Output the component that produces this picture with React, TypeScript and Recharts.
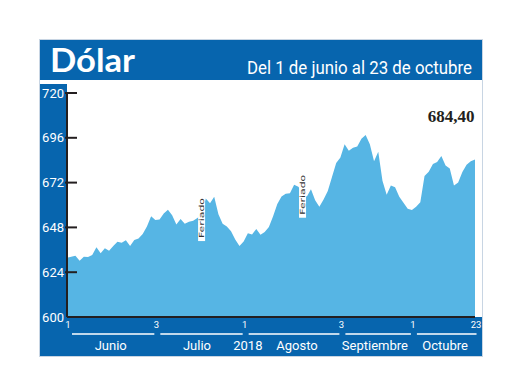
import React from 'react';
import { AreaChart, Area, XAxis, YAxis, ReferenceDot } from 'recharts';

const dolarValues = [
  631.8, 632.3, 632.8, 630.2, 632.3, 632.1, 633.2, 637.3, 634.1, 636.8,
  635.5, 638, 640.3, 639.8, 641.1, 638, 641.2, 642.1, 644.5, 648.5,
  654, 652, 652.2, 655.5, 657.5, 654.5, 649.5, 652.5, 650, 651,
  651.6, 653, 655, 663.5, 660.9, 664.4, 655, 650, 648.5, 646,
  641.5, 638, 640.5, 644.8, 644.2, 647.2, 644, 645.5, 648.2, 654,
  660.5, 664.5, 666, 666.3, 670.8, 669.8, 667, 664.4, 668.4, 662.5,
  659.1, 663, 667.5, 675, 682.5, 685.5, 692.5, 689, 690.7, 691.3,
  695.5, 697.5, 692.5, 683.5, 688.5, 673, 665.5, 670.5, 669.5, 664.4,
  661.2, 658, 657.3, 659, 661.5, 675.5, 677.8, 682, 683, 686.2,
  681.2, 679.5, 670.5, 672, 677.7, 681.5, 683.5, 684.4,
];

const dayTicks = [0, 21, 42, 65, 82, 97];
const dayTickLabels = ['1', '3', '1', '3', '1', '23'];
const yTicks = [600, 624, 648, 672, 696, 720];
const monthNames = ['Junio', 'Julio', 'Agosto', 'Septiembre', 'Octubre'];
const monthStart = [0, 21, 42, 65, 82];
const monthEnd = [21, 42, 65, 82, 97.6];
const monthLabelAt = [10.4, 30.9, 54.7, 73.2, 89.9];
const yearLabel = '2018';
const yearIndex = 43;
const feriadoIndex = [32, 56];
const feriadoLevel = [653, 665.5];
const feriadoText = 'Feriado';
const titleText = 'Dólar';
const subtitleText = 'Del 1 de junio al 23 de octubre';

const BLUE = '#0765AE';
const AREA = '#56B5E4';
const DARK = '#231F20';

const W = 520;
const H = 390;
const margin = { top: 93, right: 45, bottom: 19, left: 40 };
const yAxisWidth = 27;
const plotWidth = W - margin.left - margin.right - yAxisWidth;
const lastIndex = dolarValues.length - 1;
const pxPerDay = plotWidth / lastIndex;

const data = dolarValues.map((v, i) => ({ i, v }));
const monthAxisTicks = [...monthLabelAt, yearIndex];
const lastLabel = dolarValues[lastIndex].toFixed(2).replace('.', ',');

const YTick = (props: any) => {
  const { x, y, payload } = props;
  return (
    <g>
      <text x={x - 3} y={y + 4.5} textAnchor="end" fill="#fff" fontSize={13} fontFamily="Roboto, sans-serif">
        {payload.value}
      </text>
      {payload.value !== 600 && (
        <line x1={x - 2} x2={x + 10} y1={y} y2={y} stroke={DARK} strokeWidth={2} />
      )}
    </g>
  );
};

const DayTick = (props: any) => {
  const { x, y, payload } = props;
  const k = dayTicks.indexOf(payload.value);
  return (
    <text x={x + 1} y={y + 11} textAnchor="middle" fill="#fff" fontSize={9.5} fontFamily="Roboto, sans-serif">
      {k >= 0 ? dayTickLabels[k] : ''}
    </text>
  );
};

const MonthTick = (props: any) => {
  const { x, y, payload } = props;
  if (payload.value === yearIndex) {
    return (
      <text x={x} y={y + 19} textAnchor="middle" fill="#fff" fontSize={13} fontFamily="Roboto, sans-serif">
        {yearLabel}
      </text>
    );
  }
  const k = monthLabelAt.indexOf(payload.value);
  if (k < 0) return null;
  const x1 = x + (monthStart[k] - monthLabelAt[k]) * pxPerDay + 5;
  const x2 = x + (monthEnd[k] - monthLabelAt[k]) * pxPerDay - 1;
  return (
    <g>
      <line x1={x1} x2={x2} y1={y + 3} y2={y + 3} stroke="#fff" strokeWidth={1.3} />
      <text x={x} y={y + 19} textAnchor="middle" fill="#fff" fontSize={13} fontFamily="Roboto, sans-serif">
        {monthNames[k]}
      </text>
    </g>
  );
};

const FeriadoShape = (props: any) => {
  const { cx, cy } = props;
  if (cx == null || cy == null) return null;
  return (
    <g>
      <rect x={cx - 3.5} y={cy - 23} width={7} height={46} fill="#fff" />
      <text
        x={cx}
        y={cy}
        transform={`rotate(-90 ${cx} ${cy})`}
        textAnchor="middle"
        dy={2.5}
        fontSize={7}
        fill="#333"
        fontFamily="DejaVu Sans, sans-serif"
        textLength={40}
        lengthAdjust="spacingAndGlyphs"
      >
        {feriadoText}
      </text>
    </g>
  );
};

const LastValueShape = (props: any) => {
  const { cx, cy } = props;
  if (cx == null || cy == null) return null;
  return (
    <text
      x={cx - 24}
      y={cy - 37}
      textAnchor="middle"
      fontSize={17}
      fontWeight="bold"
      fill={DARK}
      fontFamily="Liberation Serif, serif"
    >
      {lastLabel}
    </text>
  );
};

export default function App() {
  return (
    <div style={{ position: 'absolute', left: 0, top: 0, width: W, height: H, background: '#fff' }}>
      <div style={{ position: 'absolute', left: 39, top: 39, width: 444, height: 318, border: '1px solid #c8d5e3', boxSizing: 'border-box' }} />
      <div style={{ position: 'absolute', left: 40, top: 40, width: 442, height: 40, background: BLUE }} />
      <div style={{ position: 'absolute', left: 40, top: 84, width: 27, height: 272, background: BLUE }} />
      <div style={{ position: 'absolute', left: 40, top: 317, width: 442, height: 39, background: BLUE }} />
      <svg width={W} height={H} style={{ position: 'absolute', left: 0, top: 0 }}>
        <text x={50} y={72} fill="#fff" fontSize={32} fontWeight="bold" fontFamily="Lato, sans-serif" textLength={85} lengthAdjust="spacingAndGlyphs">
          {titleText}
        </text>
        <text x={247} y={74} fill="#fff" fontSize={18} fontFamily="Roboto, sans-serif" textLength={225} lengthAdjust="spacingAndGlyphs">
          {subtitleText}
        </text>
      </svg>
      <div style={{ position: 'absolute', left: 0, top: 0 }}>
        <AreaChart width={W} height={H} data={data} margin={margin}>
          <XAxis
            dataKey="i"
            type="number"
            domain={[0, lastIndex]}
            ticks={dayTicks}
            tick={<DayTick />}
            tickLine={false}
            tickSize={0}
            tickMargin={0}
            axisLine={{ stroke: DARK, strokeWidth: 2 }}
            height={14}
            interval={0}
          />
          <XAxis
            xAxisId="m"
            dataKey="i"
            type="number"
            domain={[0, lastIndex]}
            allowDataOverflow
            ticks={monthAxisTicks}
            tick={<MonthTick />}
            tickLine={false}
            tickSize={0}
            tickMargin={0}
            axisLine={false}
            height={40}
            interval={0}
          />
          <YAxis
            type="number"
            domain={[600, 720]}
            ticks={yTicks}
            tick={<YTick />}
            tickLine={false}
            tickSize={0}
            tickMargin={0}
            axisLine={{ stroke: DARK, strokeWidth: 2 }}
            width={yAxisWidth}
            interval={0}
          />
          <Area
            type="linear"
            dataKey="v"
            stroke="none"
            fill={AREA}
            fillOpacity={1}
            isAnimationActive={false}
            baseValue={600}
          />
          {feriadoIndex.map((fi, k) => (
            <ReferenceDot key={k} x={fi} y={feriadoLevel[k]} r={0} shape={<FeriadoShape />} />
          ))}
          <ReferenceDot x={lastIndex} y={dolarValues[lastIndex]} r={0} shape={<LastValueShape />} />
        </AreaChart>
      </div>
    </div>
  );
}
